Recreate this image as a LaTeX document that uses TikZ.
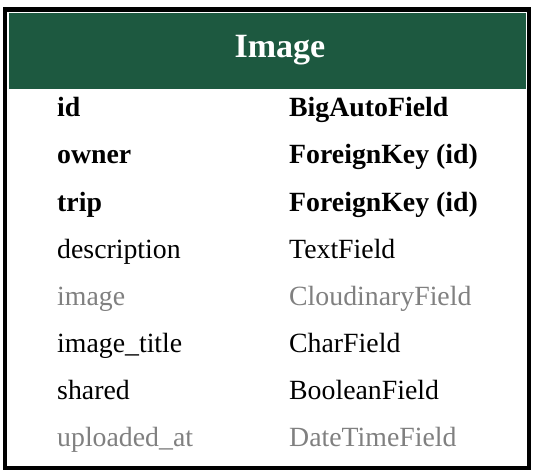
\documentclass[tikz,border=0pt]{standalone}
\usepackage{fontspec}
\setmainfont{Liberation Serif}
\definecolor{headgreen}{RGB}{29,89,64}
\definecolor{dimgray}{RGB}{128,128,128}
\tikzset{
  x=1pt, y=-1pt,
  cell/.style={anchor=base west, inner sep=0pt, font=\fontsize{27.8}{28}\selectfont},
  keycell/.style={cell, font=\fontsize{27.8}{28}\selectfont\bfseries},
  dimcell/.style={cell, text=dimgray},
  title/.style={anchor=base, inner sep=0pt, text=white, font=\fontsize{34}{34}\selectfont\bfseries}
}
\begin{document}
\begin{tikzpicture}
  \useasboundingbox (0,0) rectangle (536,475);
  \fill[white] (0,0) rectangle (536,475);
  % table frame and header band
  \draw[line width=4.5pt] (5,9.5) rectangle (529,468);
  \fill[headgreen] (9,13) rectangle (526,88.5);
  \node[title] (hdr) at (280,57) {Image};
  % field names and types
  \node[keycell] (n1) at (57,116) {id};
  \node[keycell] (t1) at (289,116) {BigAutoField};
  \node[keycell] (n2) at (57,163.5) {owner};
  \node[keycell] (t2) at (289,163.5) {ForeignKey (id)};
  \node[keycell] (n3) at (57,211) {trip};
  \node[keycell] (t3) at (289,211) {ForeignKey (id)};
  \node[cell] (n4) at (57,258.5) {description};
  \node[cell] (t4) at (289,258.5) {TextField};
  \node[dimcell] (n5) at (57,305.5) {image};
  \node[dimcell] (t5) at (289,305.5) {CloudinaryField};
  \node[cell] (n6) at (57,352.5) {image\_title};
  \node[cell] (t6) at (289,352.5) {CharField};
  \node[cell] (n7) at (57,399.5) {shared};
  \node[cell] (t7) at (289,399.5) {BooleanField};
  \node[dimcell] (n8) at (57,446.5) {uploaded\_at};
  \node[dimcell] (t8) at (289,446.5) {DateTimeField};
\end{tikzpicture}
\end{document}
